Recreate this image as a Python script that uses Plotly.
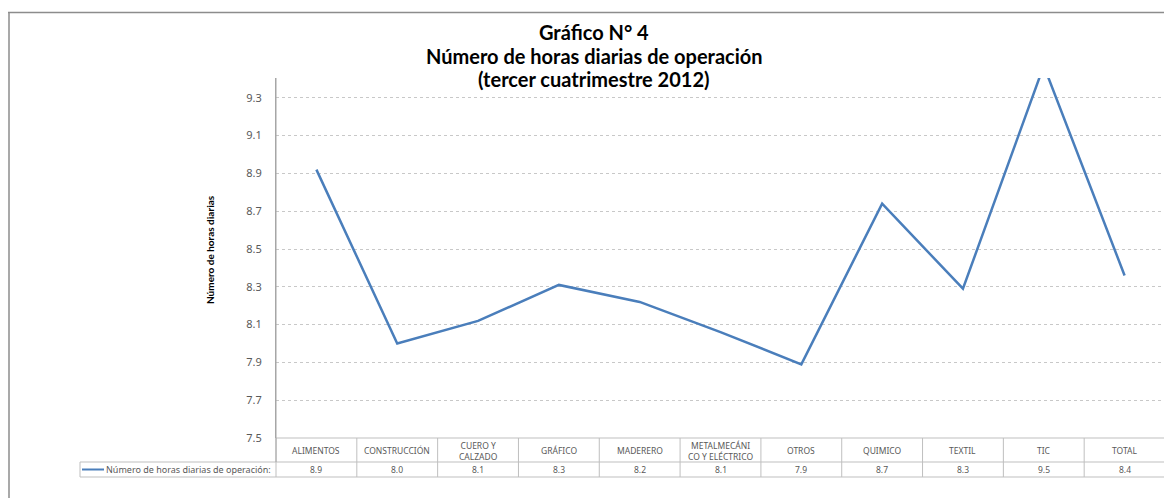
import plotly.graph_objects as go

categories = ["ALIMENTOS", "CONSTRUCCIÓN", "CUERO Y<br>CALZADO", "GRÁFICO", "MADERERO",
              "METALMECÁNI<br>CO Y ELÉCTRICO", "OTROS", "QUIMICO", "TEXTIL", "TIC", "TOTAL"]
values = [8.92, 8.00, 8.12, 8.31, 8.22, 8.06, 7.89, 8.74, 8.29, 9.47, 8.36]
y_ticks = [7.5, 7.7, 7.9, 8.1, 8.3, 8.5, 8.7, 8.9, 9.1, 9.3]
series_name = "Número de horas diarias de operación:"
title_lines = ["Gráfico N° 4", "Número de horas diarias de operación", "(tercer cuatrimestre 2012)"]
y_title = "Número de horas diarias"

# page offset (default body margin of the html page)
OFF = 8
W, H = 1172 - OFF, 498 - OFF
# plot area in screen pixels
SL, SR, ST, SB = 276, 1165, 78, 438
PW, PH = SR - SL, SB - ST

def px(x):
    return (x - SL) / PW

def py(y):
    return (SB - y) / PH

LINE_COLOR = "#4a7ebb"
GRID = "#c8c8c8"
TXT = "#595959"

fig = go.Figure()
fig.add_trace(go.Scatter(x=list(range(len(categories))), y=values, mode="lines",
                         line=dict(color=LINE_COLOR, width=2.5), showlegend=False,
                         hoverinfo="x+y"))

n = len(categories)
shapes = []
annotations = []

# frame
shapes.append(dict(type="line", xref="paper", yref="paper", x0=px(8), x1=px(1180), y0=py(12.5), y1=py(12.5),
                   line=dict(color="#8c8c8c", width=1.5)))
shapes.append(dict(type="line", xref="paper", yref="paper", x0=px(9), x1=px(9), y0=py(12), y1=py(505),
                   line=dict(color="#8c8c8c", width=1.5)))

# data table
hdr_top, mid, bot = 0, py(462), py(477)
leg_left = px(80)
tcol = "#bfbfbf"
shapes.append(dict(type="line", xref="paper", yref="paper", x0=0, x1=1, y0=hdr_top, y1=hdr_top,
                   line=dict(color=tcol, width=1)))
shapes.append(dict(type="line", xref="paper", yref="paper", x0=leg_left, x1=1, y0=mid, y1=mid,
                   line=dict(color=tcol, width=1)))
shapes.append(dict(type="line", xref="paper", yref="paper", x0=leg_left, x1=1, y0=bot, y1=bot,
                   line=dict(color=tcol, width=1)))
shapes.append(dict(type="line", xref="paper", yref="paper", x0=leg_left, x1=leg_left, y0=mid, y1=bot,
                   line=dict(color=tcol, width=1)))
for k in range(n + 1):
    shapes.append(dict(type="line", xref="paper", yref="paper", x0=k / n, x1=k / n, y0=hdr_top, y1=bot,
                       line=dict(color=tcol, width=1)))
# y axis line extended through header
shapes.append(dict(type="line", xref="paper", yref="paper", x0=0, x1=0, y0=1, y1=mid,
                   line=dict(color="#a6a6a6", width=1)))
# legend sample
shapes.append(dict(type="line", xref="paper", yref="paper", x0=px(82), x1=px(104), y0=py(469.5), y1=py(469.5),
                   line=dict(color=LINE_COLOR, width=2)))

for i, (c, v) in enumerate(zip(categories, values)):
    annotations.append(dict(x=i, xref="x", y=py(450.5), yref="paper", text=c, showarrow=False,
                            xanchor="center", yanchor="middle",
                            font=dict(family="Noto Sans", size=8.5, color=TXT)))
    annotations.append(dict(x=i, xref="x", y=py(469.5), yref="paper", text=f"{v:.1f}", showarrow=False,
                            xanchor="center", yanchor="middle",
                            font=dict(family="Noto Sans", size=8.5, color=TXT)))

annotations.append(dict(x=px(273), xref="paper", y=py(469.5), yref="paper", text=series_name, showarrow=False,
                        xanchor="right", yanchor="middle", font=dict(family="Noto Sans", size=9, color=TXT)))

for line_text, yc in zip(title_lines, [32, 56, 79]):
    annotations.append(dict(x=px(594), xref="paper", y=py(yc), yref="paper", text="<b>" + line_text + "</b>",
                            showarrow=False, xanchor="center", yanchor="middle",
                            font=dict(family="Lato", size=20, color="#000000")))
annotations.append(dict(x=px(210), xref="paper", y=py(250), yref="paper", text="<b>" + y_title + "</b>",
                        showarrow=False, textangle=-90, xanchor="center", yanchor="middle",
                        font=dict(family="Lato", size=10, color="#000000")))

fig.update_layout(
    width=W, height=H,
    margin=dict(l=SL - OFF, r=W - (SR - OFF), t=ST - OFF, b=H - (SB - OFF), pad=0),
    paper_bgcolor="white", plot_bgcolor="white",
    shapes=shapes, annotations=annotations,
    xaxis=dict(range=[-0.5, n - 0.5], showticklabels=False, showgrid=False, zeroline=False,
               showline=False, fixedrange=True),
    yaxis=dict(range=[7.5, 9.405], tickvals=y_ticks, ticktext=[f"{t:.1f}" for t in y_ticks],
               showgrid=True, gridcolor=GRID, griddash="dot", gridwidth=1,
               zeroline=False, showline=True, linecolor="#a6a6a6", linewidth=1,
               ticklabelstandoff=11,
               tickfont=dict(family="Noto Sans", size=11, color=TXT)),
    showlegend=False,
)

fig.write_html("out.html")
